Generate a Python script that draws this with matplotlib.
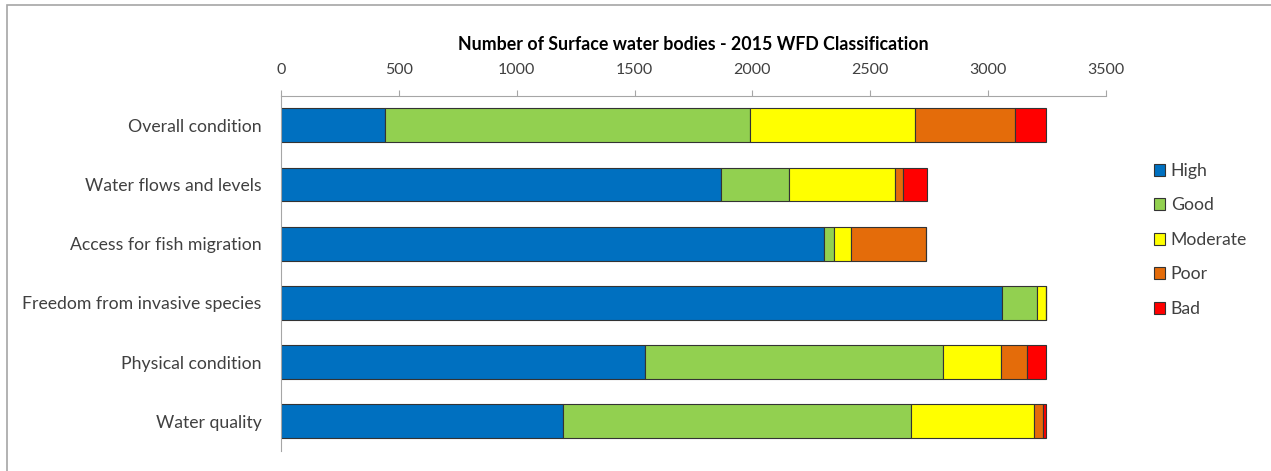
import numpy as np
import matplotlib.pyplot as plt
from matplotlib.patches import Rectangle, Patch

# categories, top to bottom
categories = ['Overall condition', 'Water flows and levels', 'Access for fish migration',
              'Freedom from invasive species', 'Physical condition', 'Water quality']
classes = ['High', 'Good', 'Moderate', 'Poor', 'Bad']
colors = ['#0070C0', '#92D050', '#FFFF00', '#E46C0A', '#FF0000']

high = [440, 1867, 2303, 3057, 1546, 1198]
good = [1550, 287, 43, 152, 1263, 1475]
moderate = [700, 450, 70, 35, 247, 521]
poor = [425, 35, 322, 0, 110, 38]
bad = [130, 100, 0, 0, 79, 12]

plt.rcParams['font.family'] = ['Lato', 'DejaVu Sans']

fig = plt.figure(figsize=(12.71, 4.71), dpi=100)
ax = fig.add_axes([0.2211, 0.0425, 0.6491, 0.7547])

# grey frame round the chart area
fig.patches.append(Rectangle((7 / 1271, -0.1), 1.2, 1.1 - 5 / 471, transform=fig.transFigure,
                             fill=False, edgecolor='#A6A6A6', linewidth=1.2))

y = np.arange(len(categories))
left = np.zeros(len(categories))
for vals, col, name in zip([high, good, moderate, poor, bad], colors, classes):
    vals = np.array(vals, dtype=float)
    ax.barh(y, vals, left=left, height=0.57, color=col, edgecolor='#333333', linewidth=0.8, label=name)
    left += vals

ax.set_ylim(len(categories) - 0.5, -0.5)
ax.set_xlim(0, 3500)
ax.set_xticks(np.arange(0, 3501, 500))
ax.xaxis.tick_top()
ax.tick_params(axis='x', length=4, color='#A6A6A6', pad=9.5, labelsize=11.5, labelcolor='#404040')
ax.set_yticks(y)
ax.set_yticklabels(categories)
ax.tick_params(axis='y', length=0, pad=14, labelsize=12.7, labelcolor='#404040')

for s in ['right', 'bottom']:
    ax.spines[s].set_visible(False)
ax.spines['top'].set_color('#A6A6A6')
ax.spines['left'].set_color('#A6A6A6')

fig.text(0.5457, 1 - 44 / 471, 'Number of Surface water bodies - 2015 WFD Classification',
         ha='center', va='center', fontsize=12.8, fontweight='bold', color='#000000')

handles = [Patch(facecolor=c, edgecolor='#333333', linewidth=0.8) for c in colors]
fig.legend(handles, classes, loc='upper left', bbox_to_anchor=(1138 / 1271, 1 - 147 / 471),
           frameon=False, fontsize=12.7, handlelength=0.65, handleheight=0.65,
           handletextpad=0.3, labelspacing=1.05, labelcolor='#404040')

fig.savefig('out.png', dpi=100)
